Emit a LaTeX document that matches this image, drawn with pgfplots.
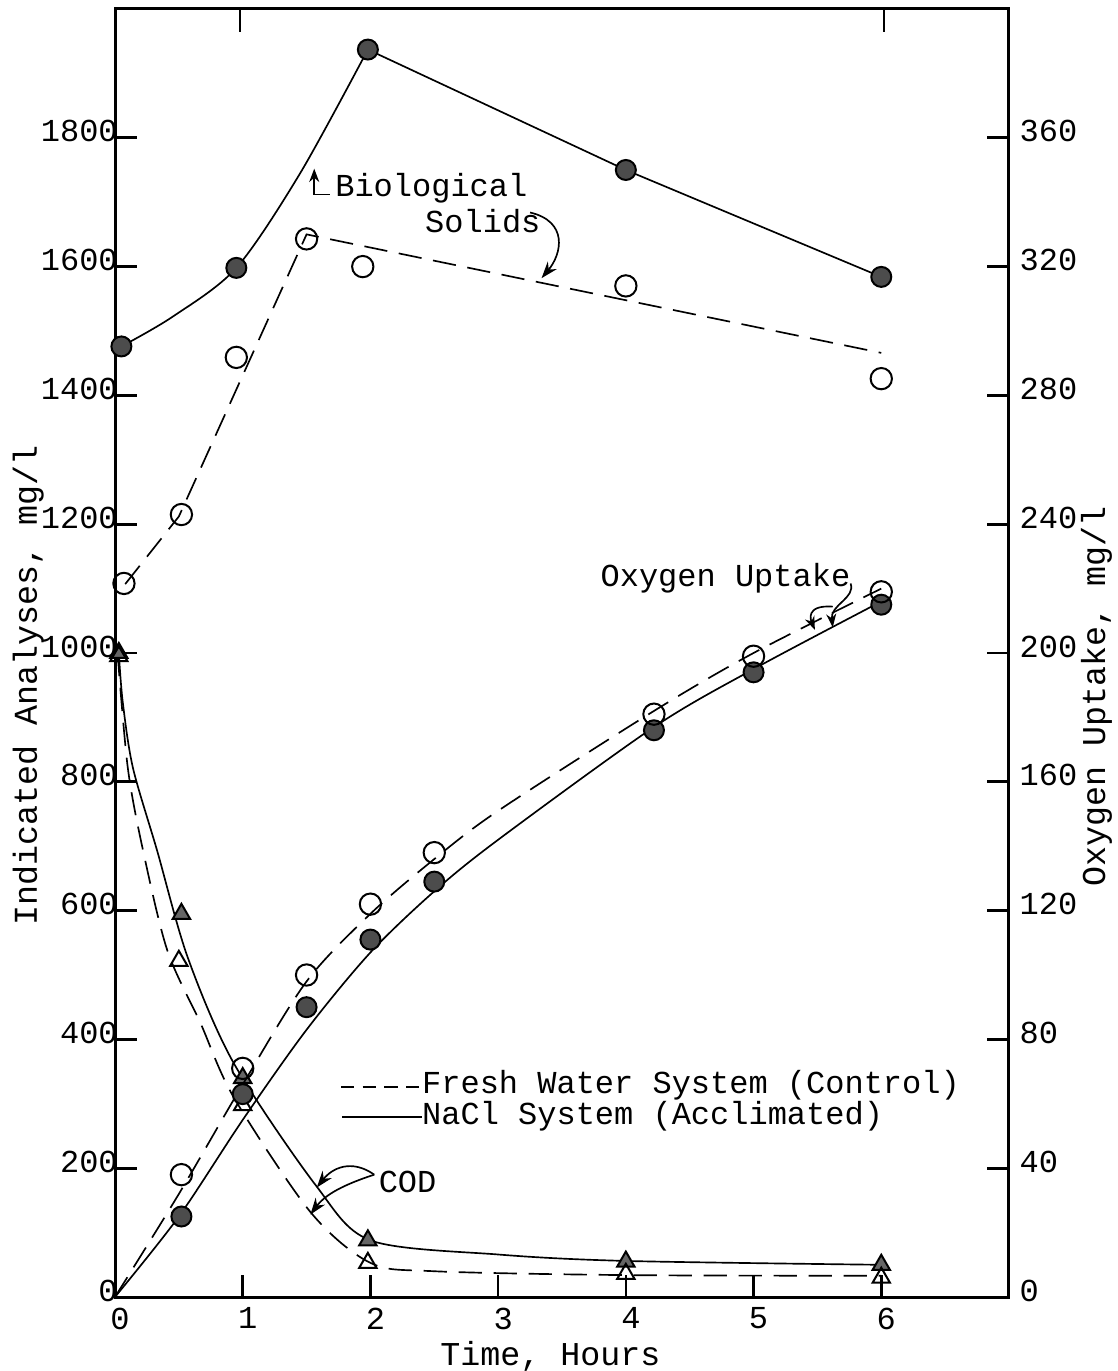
\documentclass[border=0pt]{standalone}
\usepackage{fontspec}
\setmainfont{Liberation Mono}
\usepackage{pgfplots}
\pgfplotsset{compat=1.18}
\usetikzlibrary{arrows.meta}

% marker data
\pgfplotstableread{
x y
0.05 1476
0.95 1598
1.98 1937
4.0 1750
6.0 1584
}\solidsNaCl
\pgfplotstableread{
x y
0.07 1108
0.52 1215
0.95 1459
1.5 1643
1.94 1600
4.0 1570
6.0 1426
}\solidsFresh
\pgfplotstableread{
x y
0.03 1000
0.52 595
1.0 340
1.98 88
4.0 55
6.0 50
}\codNaCl
\pgfplotstableread{
x y
0.03 995
0.5 522
1.0 298
1.98 53
4.0 36
6.0 30
}\codFresh
\pgfplotstableread{
x y
0.52 25
1.0 63
1.5 90
2.0 111
2.5 129
4.22 176
5.0 194
6.0 215
}\oxyNaCl
\pgfplotstableread{
x y
0.52 38
1.0 71
1.5 100
2.0 122
2.5 138
4.22 181
5.0 199
6.0 219
}\oxyFresh

\tikzset{
  dashline/.style={black, line width=0.5pt, dash pattern=on 7pt off 3.5pt},
  solidline/.style={black, line width=0.5pt},
}
\pgfplotsset{
  fullcirc/.style={only marks, mark=*, mark size=3pt, mark options={solid, draw=black, fill=black!70, line width=0.6pt}},
  opencirc/.style={only marks, mark=o, mark size=3.2pt, mark options={solid, black, line width=0.6pt}},
  fulltri/.style={only marks, mark=triangle*, mark size=3pt, mark options={solid, draw=black, fill=black!60, line width=0.6pt}},
  opentri/.style={only marks, mark=triangle, mark size=3pt, mark options={solid, black, line width=0.6pt}},
}

\begin{document}
\begin{tikzpicture}
\useasboundingbox (-34.5pt,-22.2pt) rectangle (300.6pt,389.1pt);
\begin{axis}[
    at={(0,0)}, anchor=south west,
    scale only axis, width=268.2pt, height=386.4pt,
    xmin=0, xmax=7, ymin=0, ymax=2000,
    clip=false,
    xtick={0,1,...,6},
    ytick={0,200,...,1800},
    tick pos=left,
    tick align=inside,
    major tick length=6.5pt,
    axis line style={line width=0.9pt},
    every tick/.style={black, line width=0.8pt},
    /pgf/number format/assume math mode=true,
    /pgf/number format/1000 sep={},
    tick label style={font=\fontsize{9.6}{11}\selectfont},
    yticklabel style={anchor=south east, inner sep=0pt, xshift=1pt, yshift=-1.5pt},
    xticklabel style={anchor=north, inner sep=0pt, yshift=-3pt, xshift=1.5pt},
    xlabel={Time, Hours},
    ylabel={Indicated Analyses, mg/l},
    label style={font=\fontsize{9.6}{11}\selectfont},
    every axis x label/.style={at={(axis description cs:0.487,0)}, anchor=north, yshift=-13pt, inner sep=0pt},
    every axis y label/.style={at={(axis description cs:-0.097,0.475)}, anchor=center, rotate=90, inner sep=0pt},
]
% biological solids, NaCl
\addplot[solidline, smooth] coordinates {(0.05,1476) (0.45,1522) (0.95,1598) (1.45,1745) (1.98,1937)};
\addplot[solidline] coordinates {(1.98,1937) (4.0,1750) (6.0,1584)};
\addplot[fullcirc] table {\solidsNaCl};
% biological solids, fresh water
\addplot[dashline] coordinates {(0.08,1107) (0.5,1212) (1.5,1650) (6.0,1466)};
\addplot[opencirc] table {\solidsFresh};
% COD
\addplot[solidline, smooth] coordinates {(0.03,1000) (0.06,925) (0.14,822) (0.33,693) (0.57,527) (0.93,363) (1.57,174) (2.0,88) (3.0,66) (4.0,56) (6.0,50)};
\addplot[fulltri] table {\codNaCl};
\addplot[dashline, smooth] coordinates {(0.02,1000) (0.1,822) (0.22,693) (0.41,538) (0.67,425) (0.93,310) (1.53,132) (2.0,53) (2.5,40) (4.0,34) (6.0,33)};
\addplot[opentri] table {\codFresh};

% the two short ticks hanging from the top edge
\draw[line width=0.8pt] (axis cs:0.98,2000) -- (axis cs:0.98,1965);
\draw[line width=0.8pt] (axis cs:6.02,2000) -- (axis cs:6.02,1965);

% annotations
\node[anchor=west, inner sep=0pt, font=\fontsize{9.6}{11}\selectfont] at (axis cs:1.72,1721) {Biological};
\node[anchor=center, inner sep=0pt, font=\fontsize{9.6}{11}\selectfont] at (axis cs:2.88,1671) {Solids};
\draw[line width=0.5pt, -{Stealth[length=4pt,width=3pt]}] (axis cs:1.68,1712) -- (axis cs:1.56,1712) -- (axis cs:1.56,1752);
\draw[line width=0.5pt, -{Stealth[length=5pt,width=3.5pt]}] (axis cs:3.25,1684) .. controls (axis cs:3.55,1670) and (axis cs:3.5,1620) .. (axis cs:3.34,1582);
\node[anchor=center, inner sep=0pt, font=\fontsize{9.6}{11}\selectfont] at (axis cs:4.78,1116) {Oxygen Uptake};
\draw[line width=0.5pt, -{Stealth[length=4pt,width=3pt]}] (axis cs:5.76,1108) .. controls (axis cs:5.8,1085) and (axis cs:5.6,1075) .. (axis cs:5.62,1040);
\draw[line width=0.5pt, -{Stealth[length=4pt,width=3pt]}] (axis cs:5.62,1072) .. controls (axis cs:5.4,1075) and (axis cs:5.45,1050) .. (axis cs:5.48,1036);
\node[anchor=west, inner sep=0pt, font=\fontsize{9.6}{11}\selectfont] at (axis cs:2.06,178) {COD};
\draw[line width=0.5pt, -{Stealth[length=5pt,width=3.5pt]}] (axis cs:2.03,190) .. controls (axis cs:1.85,215) and (axis cs:1.7,200) .. (axis cs:1.58,170);
\draw[line width=0.5pt, -{Stealth[length=5pt,width=3.5pt]}] (axis cs:2.03,190) .. controls (axis cs:1.8,175) and (axis cs:1.65,160) .. (axis cs:1.53,128);
% key
\draw[dashline, dash pattern=on 4pt off 2.5pt] (axis cs:1.77,326) -- (axis cs:2.4,326);
\node[anchor=west, inner sep=0pt, font=\fontsize{9.6}{11}\selectfont] at (axis cs:2.4,329) {Fresh Water System (Control)};
\draw[solidline] (axis cs:1.78,279) -- (axis cs:2.4,279);
\node[anchor=west, inner sep=0pt, font=\fontsize{9.6}{11}\selectfont] at (axis cs:2.4,281) {NaCl System (Acclimated)};
\end{axis}

\begin{axis}[
    at={(0,0)}, anchor=south west,
    scale only axis, width=268.2pt, height=386.4pt,
    xmin=0, xmax=7, ymin=0, ymax=400,
    clip=false,
    axis x line=none,
    axis y line*=right,
    ytick={0,40,...,360},
    tick align=inside,
    major tick length=6.5pt,
    axis line style={line width=0.9pt},
    every tick/.style={black, line width=0.8pt},
    /pgf/number format/assume math mode=true,
    tick label style={font=\fontsize{9.6}{11}\selectfont},
    yticklabel style={anchor=south west, inner sep=0pt, xshift=3pt, yshift=-1.5pt},
    ylabel={Oxygen Uptake, mg/l},
    label style={font=\fontsize{9.6}{11}\selectfont},
    every axis y label/.style={at={(axis description cs:1.098,0.466)}, anchor=center, rotate=90, inner sep=0pt},
]
% oxygen uptake (right scale)
\addplot[solidline, smooth] coordinates {(0,0) (0.5,25) (1.0,55) (1.5,83) (2.0,107) (2.5,126) (3.0,142) (4.22,177) (5.0,195) (6.0,216)};
\addplot[fullcirc] table {\oxyNaCl};
\addplot[dashline, smooth] coordinates {(0,0) (0.5,32) (1.0,66) (1.5,98) (2.0,119) (2.5,136) (3.0,151) (4.22,182) (5.0,200) (6.0,220)};
\addplot[opencirc] table {\oxyFresh};
\end{axis}
\end{tikzpicture}
\end{document}
